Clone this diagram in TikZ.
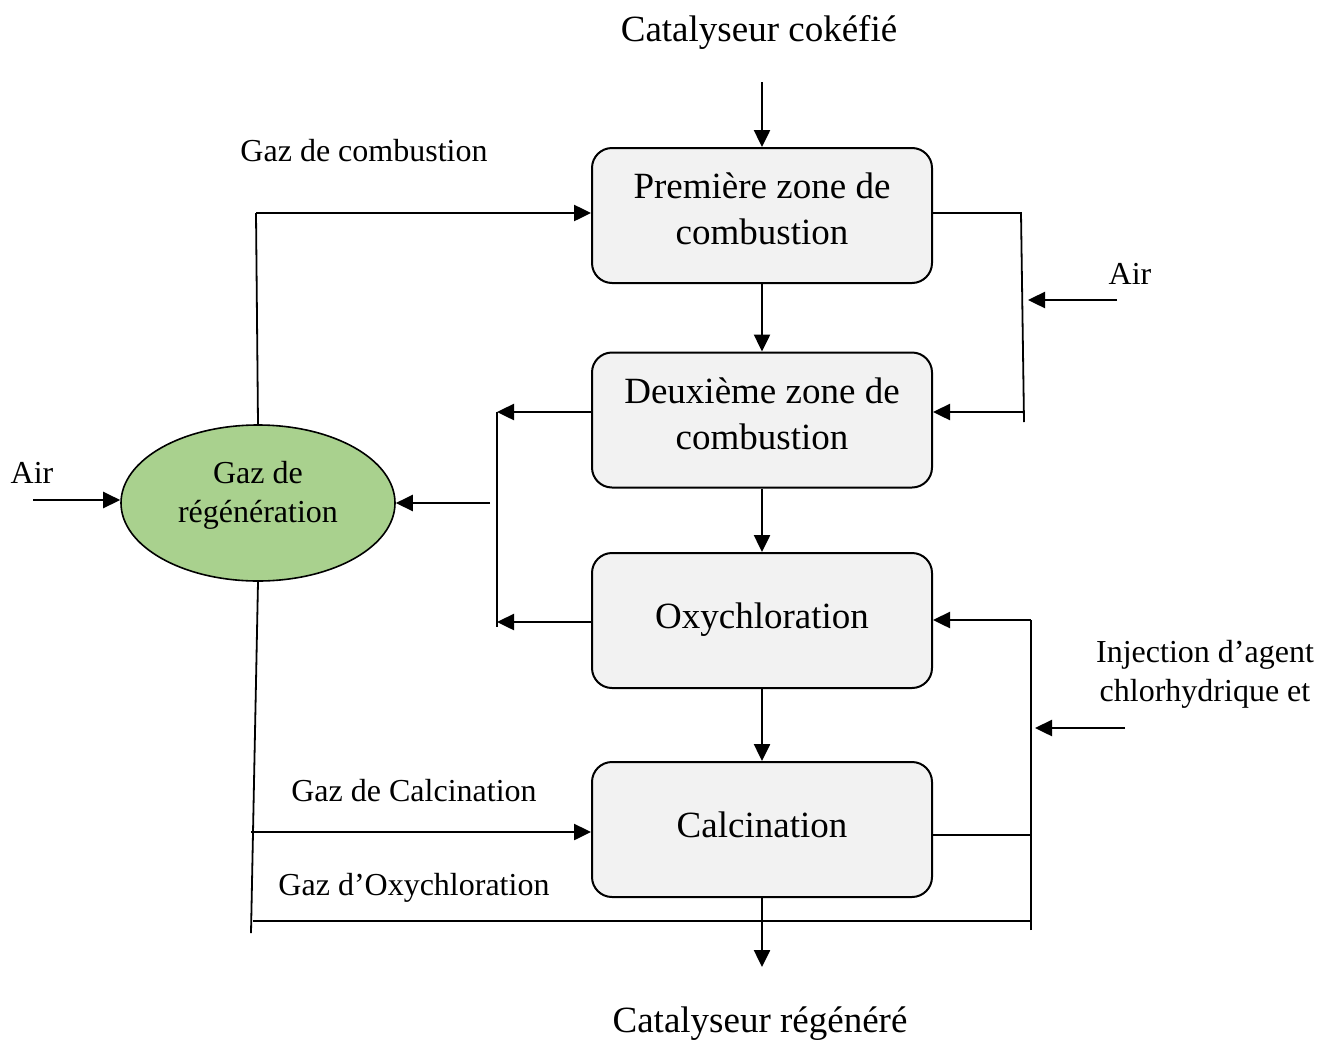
\documentclass[tikz,border=0pt]{standalone}
\usepackage{fontspec}
\setmainfont{Liberation Serif}
\usetikzlibrary{arrows.meta,shapes.geometric}
\definecolor{boxfill}{HTML}{F2F2F2}
\definecolor{ellfill}{HTML}{A9D18E}
\tikzset{
  stepbox/.style={draw=black, line width=1pt, fill=boxfill, rounded corners=10pt,
    minimum width=170pt, minimum height=67.5pt, inner sep=0pt},
  boxtext/.style={align=center, inner sep=0pt, font=\fontsize{18.5}{23}\selectfont},
  big/.style={font=\fontsize{18.5}{23}\selectfont, inner sep=0pt},
  small/.style={font=\fontsize{16}{19.5}\selectfont, inner sep=0pt, align=center},
  flow/.style={line width=1.25pt, -{Triangle[length=8.5pt,width=8pt]}},
  plain/.style={line width=0.9pt}
}
\begin{document}
\begin{tikzpicture}[x=0.5pt,y=-0.5pt]
\useasboundingbox (0,0) rectangle (1321,1044);
% boxes
\node[stepbox] (b1) at (762,215.5) {};
\node[stepbox] (b2) at (762,420) {};
\node[stepbox] (b3) at (762,620.5) {};
\node[stepbox] (b4) at (762,829.5) {};
\node[boxtext] (t1) at (762,209) {Première zone de\\combustion};
\node[boxtext] (t2) at (762,414) {Deuxième zone de\\combustion};
\node[boxtext] (t3) at (762,620) {Oxychloration};
\node[boxtext] (t4) at (762,825) {Calcination};
\node[ellipse, draw=black, line width=0.8pt, fill=ellfill, minimum width=137pt, minimum height=78pt] (ell) at (258,503) {};
\node[small] (et) at (258,495) {Gaz de\\régénération};
% texts
\node[big] (tin) at (759,32) {Catalyseur cokéfié};
\node[big] (tout) at (760,1024) {Catalyseur régénéré};
\node[small] (lcomb) at (364,151) {Gaz de combustion};
\node[small] (lcalc) at (414,791) {Gaz de Calcination};
\node[small] (loxy) at (414,888) {Gaz d’Oxychloration};
\node[small] (lair1) at (32,473) {Air};
\node[small] (lair2) at (1130,274) {Air};
\node[small] (linj) at (1205,674) {Injection d’agent\\chlorhydrique et};
% coordinates
\coordinate (tinA) at (762,82);
\coordinate (toutA) at (762,967);
\coordinate (gc1) at (256,213);
\coordinate (r1a) at (1021,213);
\coordinate (r1b) at (1024,422);
\coordinate (r1c) at (1023,412);
\coordinate (air2a) at (1117,300);
\coordinate (air2b) at (1088,300);
\coordinate (air2c) at (1028,300);
\coordinate (lv1) at (497,412);
\coordinate (lv2) at (497,627);
\coordinate (lv3) at (497,622);
\coordinate (lva) at (490,503);
\coordinate (air1a) at (33,500);
\coordinate (rv1) at (1031,620);
\coordinate (rv2) at (1031,930);
\coordinate (rv3) at (1031,835);
\coordinate (inja) at (1125,728);
\coordinate (injb) at (1035,728);
\coordinate (bv2) at (251,933);
\coordinate (bc) at (251,832);
\coordinate (bo1) at (253,921);
\coordinate (bo2) at (1031,921);
% main vertical flow
\draw[flow] (tinA) -- (b1.north);
\draw[flow] (b1.south) -- (b2.north);
\draw[flow] (b2.south) -- (b3.north);
\draw[flow] (b3.south) -- (b4.north);
\draw[flow] (b4.south) -- (toutA);
% combustion gas
\draw[plain] (ell.north) -- (gc1);
\draw[flow] (gc1) -- (b1.west |- gc1);
% right air loop
\draw[plain] (b1.east |- r1a) -- (r1a) -- (r1b);
\draw[flow] (r1c) -- (b2.east |- r1c);
\draw[line width=0.6pt] (air2a) -- (air2b);
\draw[flow] (air2b) -- (air2c);
% left outputs to regeneration gas
\draw[plain] (lv1) -- (lv2);
\draw[flow] (b2.west |- lv1) -- (lv1);
\draw[flow] (b3.west |- lv3) -- (lv3);
\draw[flow] (lva) -- (ell.east |- lva);
\draw[flow] (air1a) -- (ell.west |- air1a);
% right injection loop
\draw[plain] (rv2) -- (rv1);
\draw[flow] (rv1) -- (b3.east |- rv1);
\draw[plain] (b4.east |- rv3) -- (rv3);
\draw[flow] (inja) -- (injb);
% bottom lines
\draw[plain] (ell.south) -- (bv2);
\draw[flow] (bc) -- (b4.west |- bc);
\draw[plain] (bo1) -- (bo2);
\end{tikzpicture}
\end{document}
